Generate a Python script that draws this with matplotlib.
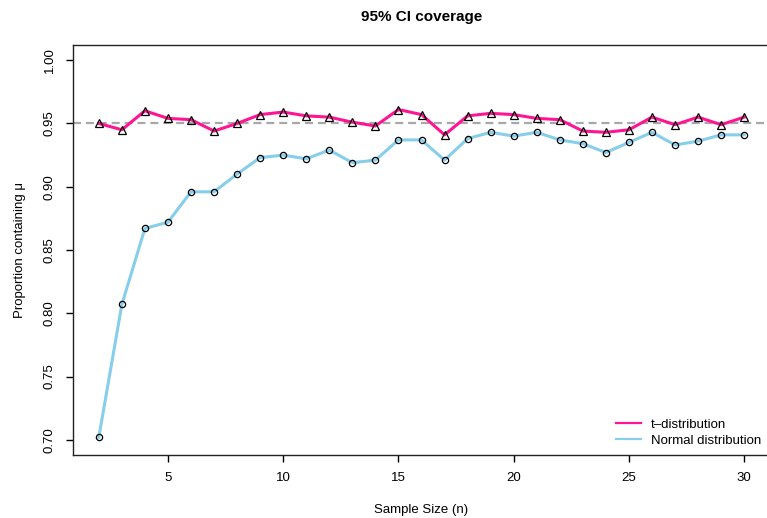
import numpy as np
import matplotlib
matplotlib.use('Agg')
import matplotlib.pyplot as plt

plt.rcParams['font.family'] = ['Liberation Sans', 'DejaVu Sans']

# sample sizes and coverage proportions
n = list(range(2, 31))
t_cov = [0.950, 0.945, 0.960, 0.954, 0.953, 0.944, 0.950, 0.957, 0.959, 0.956,
         0.955, 0.951, 0.948, 0.961, 0.957, 0.941, 0.956, 0.958, 0.957, 0.954,
         0.953, 0.944, 0.943, 0.945, 0.955, 0.949, 0.955, 0.949, 0.955]
norm_cov = [0.702, 0.807, 0.867, 0.872, 0.896, 0.896, 0.910, 0.923, 0.925, 0.922,
            0.929, 0.919, 0.921, 0.937, 0.937, 0.921, 0.938, 0.943, 0.940, 0.943,
            0.937, 0.934, 0.927, 0.935, 0.943, 0.933, 0.936, 0.941, 0.941]
x_ticks = [5, 10, 15, 20, 25, 30]
y_ticks = [0.70, 0.75, 0.80, 0.85, 0.90, 0.95, 1.00]

fig = plt.figure(figsize=(7.67, 5.18), dpi=100)
ax = fig.add_axes([73/767, 1 - 455/518, (770 - 73)/767, (455 - 45)/518])

ax.axhline(0.95, color='#a8a8a8', lw=1.6, ls=(0, (3.6, 2.2)), zorder=1)

ax.plot(n, t_cov, color='#ff1493', lw=2.2, zorder=2, label='t\u2013distribution')
ax.plot(n, t_cov, ls='none', marker='^', ms=5.5, mfc='none', mec='black', mew=0.9, zorder=3)
ax.plot(n, norm_cov, color='#87ceeb', lw=2.2, zorder=2, label='Normal distribution')
ax.plot(n, norm_cov, ls='none', marker='o', ms=4.5, mfc='none', mec='black', mew=0.9, zorder=3)

ax.set_xlim(0.88, 31.12)
ax.set_ylim(0.688, 1.012)
ax.set_xticks(x_ticks)
ax.set_yticks(y_ticks)
ax.set_yticklabels(['%.2f' % v for v in y_ticks], rotation=90, va='center')
ax.tick_params(axis='both', direction='out', length=5, width=1, labelsize=9.5, pad=7.5)
for s in ax.spines.values():
    s.set_linewidth(1)
    s.set_color('#222222')

ax.set_title('95% CI coverage', fontsize=11, fontweight='bold', pad=17)
ax.set_xlabel('Sample Size (n)', fontsize=9.5, labelpad=14)
ax.set_ylabel('Proportion containing \u03bc', fontsize=9.5, labelpad=13)

leg = ax.legend(loc='lower right', frameon=False, fontsize=9.5, handlelength=1.85,
                borderaxespad=0.2, bbox_to_anchor=(0.999, 0.0), labelspacing=0.3)
for h in leg.get_lines():
    h.set_linewidth(1.6)

fig.savefig('out.png', dpi=100)
